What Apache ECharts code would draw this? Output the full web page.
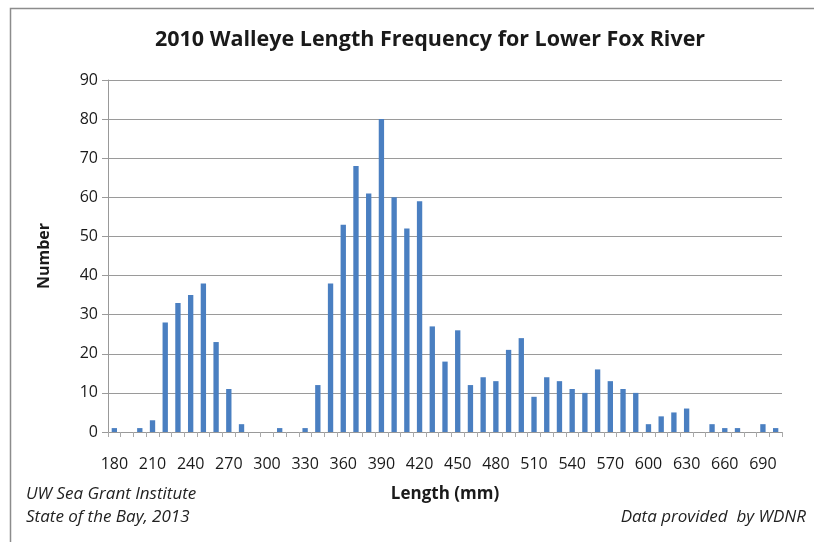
<!DOCTYPE html>
<html>
<head>
<meta charset="utf-8">
<script src="https://cdn.jsdelivr.net/npm/echarts@6/dist/echarts.min.js"></script>
<style>
html,body{margin:0;padding:0;background:#fff;}
#chart{width:814px;height:542px;}
</style>
</head>
<body>
<div id="chart"></div>
<script>
var titleText = "2010 Walleye Length Frequency for Lower Fox River";
var lengths = ["180","190","200","210","220","230","240","250","260","270","280","290","300","310","320","330","340","350","360","370","380","390","400","410","420","430","440","450","460","470","480","490","500","510","520","530","540","550","560","570","580","590","600","610","620","630","640","650","660","670","680","690","700"];
var counts = [1,0,1,3,28,33,35,38,23,11,2,0,0,1,0,1,12,38,53,68,61,80,60,52,59,27,18,26,12,14,13,21,24,9,14,13,11,10,16,13,11,10,2,4,5,6,0,2,1,1,0,2,1];
var yTicks = [0,10,20,30,40,50,60,70,80,90];

var chart = echarts.init(document.getElementById('chart'));
var font = "'Open Sans', Lato, sans-serif";
chart.setOption({
  animation: false,
  backgroundColor: '#fff',
  title: {
    text: titleText,
    left: 425,
    textAlign: 'center',
    top: 24,
    textStyle: {fontFamily: font, fontWeight: 'bold', fontSize: 21.5, color: '#1a1a1a'}
  },
  grid: {left: 108, top: 80, width: 674, height: 352, containLabel: false},
  xAxis: {
    type: 'category',
    data: lengths,
    boundaryGap: true,
    name: 'Length (mm)',
    nameLocation: 'middle',
    nameGap: 54,
    nameTextStyle: {fontFamily: font, fontWeight: 'bold', fontSize: 17, color: '#1a1a1a'},
    axisLine: {lineStyle: {color: '#999', width: 1}},
    axisTick: {show: true, length: 5, alignWithLabel: false, interval: 0, lineStyle: {color: '#aaa'}},
    axisLabel: {interval: 2, margin: 24, fontFamily: font, fontSize: 16, color: '#1a1a1a'}
  },
  yAxis: {
    type: 'value',
    min: yTicks[0],
    max: yTicks[yTicks.length - 1],
    interval: 10,
    name: 'Number',
    nameLocation: 'middle',
    nameGap: 56,
    nameRotate: 90,
    nameTextStyle: {fontFamily: font, fontWeight: 'bold', fontSize: 16, color: '#1a1a1a'},
    axisLine: {show: true, lineStyle: {color: '#999'}},
    axisTick: {show: true, length: 6, lineStyle: {color: '#9a9a9a'}},
    axisLabel: {margin: 10, fontFamily: font, fontSize: 16, color: '#1a1a1a'},
    splitLine: {show: true, lineStyle: {color: '#9a9a9a', width: 1}}
  },
  series: [{
    type: 'bar',
    data: counts,
    barCategoryGap: '58%',
    itemStyle: {color: '#4a7fc1'}
  }],
  graphic: [
    {type: 'rect', shape: {x: 10.5, y: 8.5, width: 810, height: 560}, style: {fill: 'none', stroke: '#8c8c8c', lineWidth: 1.5}, silent: true},
    {type: 'text', left: 26, top: 486, style: {text: 'UW Sea Grant Institute', fontFamily: font, fontStyle: 'italic', fontSize: 17, fill: '#222'}},
    {type: 'text', left: 26, top: 509, style: {text: 'State of the Bay, 2013', fontFamily: font, fontStyle: 'italic', fontSize: 17, fill: '#222'}},
    {type: 'text', right: 8, top: 509, style: {text: 'Data provided  by WDNR', fontFamily: font, fontStyle: 'italic', fontSize: 17, fill: '#222'}}
  ]
});
</script>
</body>
</html>
